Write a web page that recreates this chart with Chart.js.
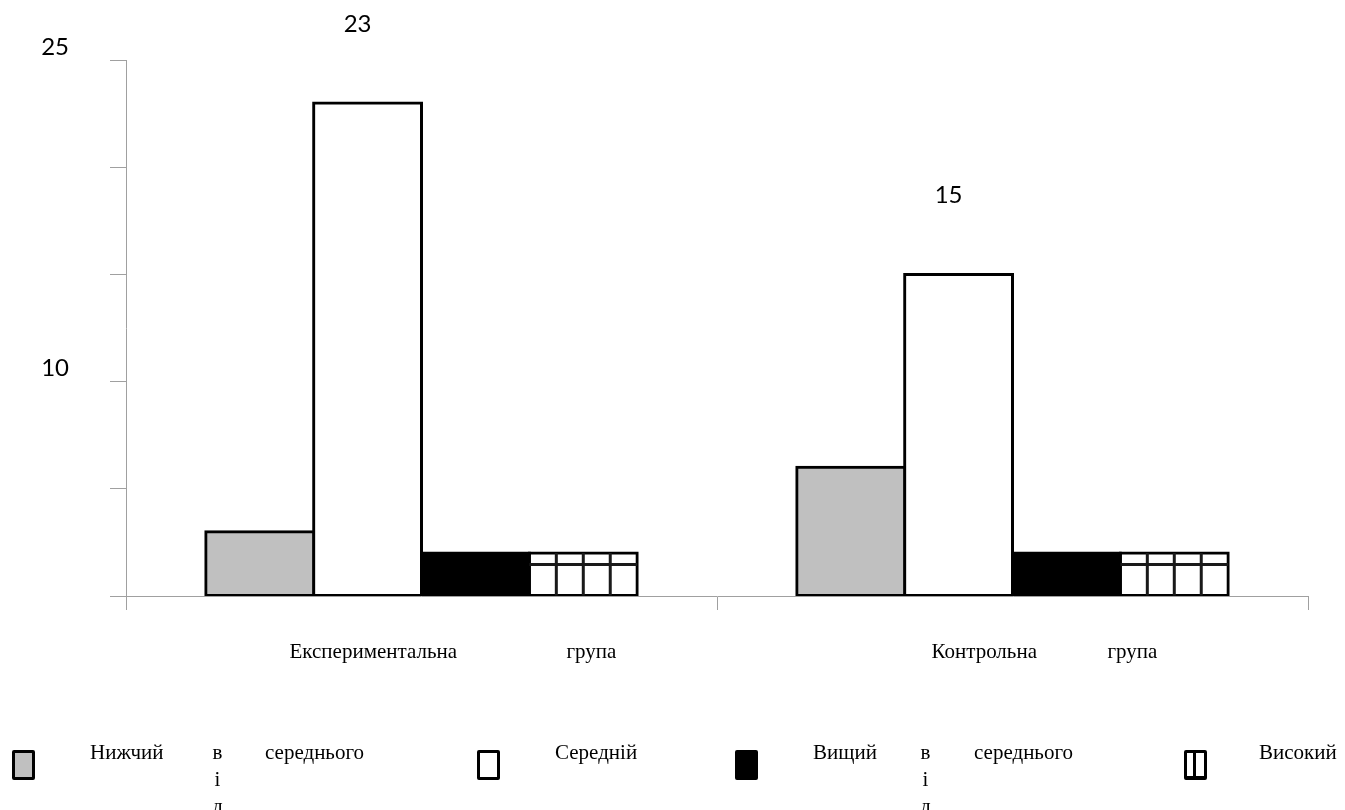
<!DOCTYPE html>
<html>
<head>
<meta charset="utf-8">
<title>Рівні - експериментальна та контрольна групи</title>
<script src="https://cdn.jsdelivr.net/npm/chart.js@4.4.1/dist/chart.umd.min.js"></script>
<style>
  body { margin: 0; background: #fff; }
  #wrap { position: relative; width: 1345px; height: 810px; overflow: hidden; }
  #legend .box { position: absolute; top: 750px; width: 17px; height: 24px; border: 3px solid #000; border-radius: 2px; }
  #legend .txt { position: absolute; top: 739px; font: 21px "Liberation Serif", "DejaVu Serif", serif; line-height: 27px; color: #000; white-space: nowrap; }
  #legend .vert { width: 11px; text-align: center; }
</style>
</head>
<body>
<div id="wrap">
  <canvas id="js-chart-levels" width="1345" height="810"></canvas>
  <div id="legend"></div>
</div>
<script>
// Data
const categories = ['Експериментальна група', 'Контрольна група'];
const seriesNames = ['Нижчий від середнього', 'Середній', 'Вищий від середнього', 'Високий'];
const lowerValues = [3, 6];
const middleValues = [23, 15];
const aboveValues = [2, 2];
const highValues = [2, 2];
const yTickValues = [0, 5, 10, 15, 20, 25];
const yTickLabelsShown = [25, 10];

// Styles
const seriesFills = ['#c0c0c0', '#ffffff', '#000000', '#ffffff'];
const axisGray = '#a0a0a0';
const serif = '"Liberation Serif", "DejaVu Serif", serif';

// where the two words of each category label sit, relative to the category centre
const xLabelOffsets = [[-132, 145], [-81, 95]];

// Legend layout: box left, then left of each text piece
const legendLayout = [
  {box: 12, parts: [90, 212, 265]},
  {box: 477, parts: [555]},
  {box: 735, parts: [813, 920, 974]},
  {box: 1184, parts: [1259]}
];

// Hatch lines for the "Високий" bars
const hatchPlugin = {
  id: 'hatch',
  afterDatasetsDraw(chart) {
    const meta = chart.getDatasetMeta(3);
    const ctx = chart.ctx;
    ctx.save();
    ctx.strokeStyle = '#1a1a1a';
    ctx.lineWidth = 3;
    meta.data.forEach(el => {
      const {x, y, base, width} = el.getProps(['x', 'y', 'base', 'width'], true);
      const left = x - width / 2;
      ctx.beginPath();
      for (let k = 1; k < 4; k++) {
        ctx.moveTo(left + width * k / 4, y);
        ctx.lineTo(left + width * k / 4, base);
      }
      const hy = y + (base - y) * 0.27;
      ctx.moveTo(left, hy);
      ctx.lineTo(left + width, hy);
      ctx.stroke();
    });
    ctx.restore();
  }
};

// Value labels over the "Середній" bars + category labels under the axis
const textPlugin = {
  id: 'texts',
  afterDraw(chart) {
    const ctx = chart.ctx;
    ctx.save();
    ctx.fillStyle = '#000';
    ctx.font = '24px Lato, "Open Sans", sans-serif';
    ctx.textAlign = 'center';
    ctx.textBaseline = 'middle';
    chart.getDatasetMeta(1).data.forEach((el, i) => {
      ctx.fillText(String(middleValues[i]), el.x - 10, el.y - 79);
    });

    const xScale = chart.scales.x;
    ctx.font = '21px ' + serif;
    ctx.textAlign = 'left';
    ctx.textBaseline = 'alphabetic';
    categories.forEach((cat, i) => {
      const cx = xScale.getPixelForValue(i);
      const words = cat.split(' ');
      words.forEach((w, j) => {
        ctx.fillText(w, cx + xLabelOffsets[i][j], chart.chartArea.bottom + 62);
      });
    });
    ctx.restore();
  }
};

let chartLevelsCon = document.getElementById('js-chart-levels');

let chartLevelsData = {
  labels: categories,
  datasets: [lowerValues, middleValues, aboveValues, highValues].map((vals, i) => ({
    label: seriesNames[i],
    data: vals,
    backgroundColor: seriesFills[i],
    borderColor: '#000',
    borderWidth: 3,
    borderSkipped: false,
    inflateAmount: 1.5,
    barPercentage: 1,
    categoryPercentage: 0.73
  }))
};

let chartLevelsOptions = {
  responsive: false,
  animation: false,
  layout: {
    padding: {top: 60, right: 37, bottom: 200, left: 0}
  },
  plugins: {
    legend: {display: false},
    tooltip: {enabled: false}
  },
  scales: {
    x: {
      grid: {
        offset: true,
        drawOnChartArea: false,
        color: axisGray,
        tickLength: 14
      },
      border: {color: axisGray},
      ticks: {display: false}
    },
    y: {
      min: 0,
      max: 25,
      afterBuildTicks(scale) {
        scale.ticks = yTickValues.map(v => ({value: v}));
      },
      afterFit(scale) {
        scale.width = 126;
      },
      grid: {
        drawOnChartArea: false,
        color: axisGray,
        tickLength: 16
      },
      border: {color: axisGray},
      ticks: {
        padding: 41,
        labelOffset: -13,
        color: '#000',
        font: {family: 'Lato, "Open Sans", sans-serif', size: 24},
        callback: v => yTickLabelsShown.includes(v) ? String(v) : ''
      }
    }
  }
};

new Chart(chartLevelsCon, {
  type: 'bar',
  data: chartLevelsData,
  options: chartLevelsOptions,
  plugins: [hatchPlugin, textPlugin]
});

// Legend (HTML)
const legendEl = document.getElementById('legend');
seriesNames.forEach((name, i) => {
  const lay = legendLayout[i];
  const box = document.createElement('div');
  box.className = 'box';
  box.style.left = lay.box + 'px';
  box.style.background = seriesFills[i];
  if (i === 3) {
    box.style.borderBottomWidth = '4px';
    box.style.height = '23px';
    box.style.backgroundImage = 'linear-gradient(to right, transparent 6px, #000 6px, #000 9px, transparent 9px)';
  }
  legendEl.appendChild(box);

  const words = name.split(' ');
  words.forEach((w, j) => {
    const t = document.createElement('div');
    t.className = 'txt';
    t.style.left = lay.parts[j] + 'px';
    if (words.length === 3 && j === 1) {
      // the middle word runs down letter by letter
      t.classList.add('vert');
      t.innerHTML = w.split('').join('<br>');
    } else {
      t.textContent = w;
    }
    legendEl.appendChild(t);
  });
});
</script>
</body>
</html>
